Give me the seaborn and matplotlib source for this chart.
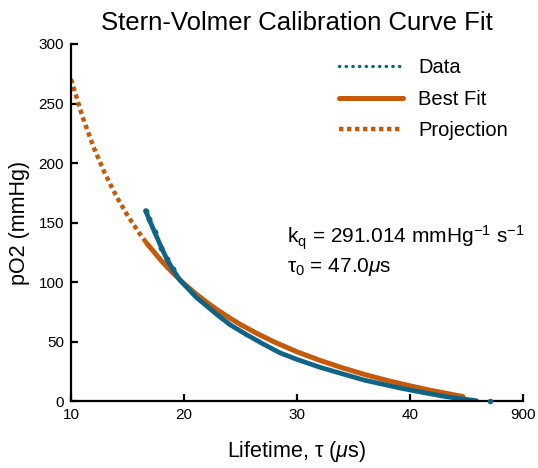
import matplotlib
matplotlib.use("Agg")
import matplotlib.pyplot as plt
from matplotlib.lines import Line2D
import seaborn as sns
import pandas as pd

# ---- data ----
data_tau = [16.6, 16.9, 17.4, 18.0, 18.5, 19.0, 19.6, 20.3, 21.1, 22.0, 23.0, 24.1,
            25.5, 27.0, 28.5, 30.0, 32.0, 33.8, 36.0, 39.1, 41.0, 43.0, 44.5, 45.9]
data_po2 = [160, 153, 142, 129, 119, 111, 102, 95, 87, 80, 72, 64,
            56, 48, 40.5, 35, 28.5, 23.5, 17.5, 11, 7.5, 4, 2, 0.3]
outlier_tau = [47.1]
outlier_po2 = [0.3]

fit_tau = [16.7, 18, 19, 20, 21, 22, 23, 24, 25, 26.5, 28, 30, 32, 34, 36, 38, 40, 42, 44.7]
fit_po2 = [132.6, 117.8, 107.7, 98.7, 90.5, 83.1, 76.3, 70.1, 64.3, 56.6, 49.6, 41.4,
           34.3, 28.0, 22.3, 17.3, 12.8, 8.7, 3.8]

proj_tau = [10, 11, 12, 13, 14, 15, 16, 16.7]
proj_po2 = [270.5, 239.3, 213.2, 191.2, 172.3, 156.0, 141.7, 132.6]

x_ticks = [10, 20, 30, 40, 50]
x_ticklabels = ["10", "20", "30", "40", "900"]
y_ticks = [0, 50, 100, 150, 200, 250, 300]

BLUE = "#0d6487"
ORANGE = "#c55a0b"

sns.set_style("ticks")
plt.rcParams["font.family"] = ["Liberation Sans", "DejaVu Sans"]
plt.rcParams["mathtext.fontset"] = "custom"
plt.rcParams["mathtext.rm"] = "Liberation Sans"
plt.rcParams["mathtext.it"] = "Liberation Sans:italic"
plt.rcParams["text.color"] = "black"
plt.rcParams["axes.labelcolor"] = "black"

fig = plt.figure(figsize=(5.38, 4.68), dpi=100)
ax = fig.add_axes([0.132, 0.143, 0.840, 0.763])

df_data = pd.DataFrame({"tau": data_tau, "po2": data_po2})
df_fit = pd.DataFrame({"tau": fit_tau, "po2": fit_po2})
df_proj = pd.DataFrame({"tau": proj_tau, "po2": proj_po2})
df_out = pd.DataFrame({"tau": outlier_tau, "po2": outlier_po2})

sns.lineplot(data=df_proj, x="tau", y="po2", ax=ax, color=ORANGE, lw=3.2,
             sort=False, estimator=None)
ax.lines[-1].set_dashes((1, 0.8))
ax.lines[-1].set_dash_capstyle("butt")
sns.lineplot(data=df_fit, x="tau", y="po2", ax=ax, color=ORANGE, lw=3.6,
             sort=False, estimator=None)
sns.lineplot(data=df_data, x="tau", y="po2", ax=ax, color=BLUE, lw=3.4,
             sort=False, estimator=None)
sns.scatterplot(data=df_data.iloc[:6], x="tau", y="po2", ax=ax, color=BLUE, s=18,
                linewidth=0, zorder=3)
sns.scatterplot(data=df_out, x="tau", y="po2", ax=ax, color=BLUE, s=16,
                linewidth=0, zorder=3, clip_on=False)

ax.set_xlim(10, 50)
ax.set_ylim(0, 300)
ax.set_xticks(x_ticks)
ax.set_xticklabels(x_ticklabels)
ax.set_yticks(y_ticks)
ax.tick_params(direction="in", length=5, width=1.6, labelsize=11, colors="black",
               pad=5)
for s in ["left", "bottom"]:
    ax.spines[s].set_linewidth(1.6)
    ax.spines[s].set_color("black")
sns.despine(ax=ax)

ax.set_title("Stern-Volmer Calibration Curve Fit", fontsize=18.5, pad=10)
ax.set_xlabel("Lifetime, τ ($\\mu$s)", fontsize=15.5, labelpad=12)
ax.set_ylabel("pO2 (mmHg)", fontsize=15.5, labelpad=6)

ax.text(29.1, 137, r"k$_\mathregular{q}$ = 291.014 mmHg$^\mathregular{-1}$ s$^\mathregular{-1}$",
        fontsize=15, va="center", ha="left")
ax.text(29.1, 113, r"τ$_\mathregular{0}$ = 47.0$\mu$s", fontsize=15, va="center", ha="left")

handles = [
    Line2D([], [], color=BLUE, lw=2.4, dashes=(0.1, 1.9), dash_capstyle="round"),
    Line2D([], [], color=ORANGE, lw=3.6),
    Line2D([], [], color=ORANGE, lw=3.2, dashes=(1, 0.8), dash_capstyle="butt"),
]
ax.legend(handles, ["Data", "Best Fit", "Projection"], loc="upper right",
          bbox_to_anchor=(0.998, 1.0), frameon=False, fontsize=14.5,
          handlelength=3.2, handletextpad=0.75, labelspacing=0.62,
          borderaxespad=0.3)

fig.savefig("out.png", dpi=100)
